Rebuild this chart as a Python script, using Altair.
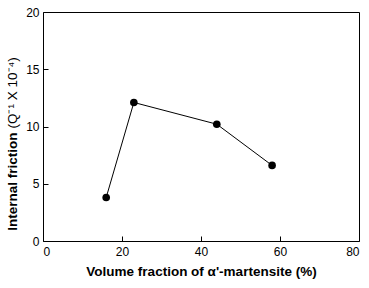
import altair as alt
import pandas as pd

volume_fraction = [16, 23, 44, 58]
internal_friction = [3.8, 12.1, 10.2, 6.6]
x_ticks = [0, 20, 40, 60, 80]
y_ticks = [0, 5, 10, 15, 20]

df = pd.DataFrame({"vf": volume_fraction, "q": internal_friction})

FONT = "Liberation Sans"
W, H = 316, 229
INWARD = alt.ExprRef(expr="-5")

xscale = alt.Scale(domain=[0, 80], nice=False)
yscale = alt.Scale(domain=[0, 20], nice=False)

xaxis = alt.Axis(values=x_ticks, title="Volume fraction of α'-martensite (%)",
                 ticks=True, tickSize=INWARD, tickColor="black", domain=False, grid=False,
                 labelPadding=10, labelFontSize=12, labelFont=FONT, labelColor="black",
                 titleFont=FONT, titleFontSize=13.5, titleFontWeight="bold", titleColor="black",
                 titlePadding=7)


def X():
    return alt.X("vf:Q", scale=xscale, axis=xaxis)


line = alt.Chart(df).mark_line(color="black", strokeWidth=1).encode(
    x=X(),
    y=alt.Y("q:Q", scale=yscale,
            axis=alt.Axis(values=y_ticks, title="Internal friction",
                          ticks=True, tickSize=INWARD, tickColor="black", domain=False, grid=False,
                          labelPadding=9, labelFontSize=12, labelFont=FONT, labelColor="black",
                          titleFont=FONT, titleFontSize=13.5, titleFontWeight="bold", titleColor="black",
                          titleAlign="right", titleY=120, titleX=-24, titleBaseline="bottom", titleAngle=270)),
)
pts = alt.Chart(df).mark_circle(color="black", opacity=1, size=58).encode(
    x=X(),
    y=alt.Y("q:Q", scale=yscale, axis=None),
)

title2 = alt.Chart(df).mark_point(opacity=0).encode(
    x=X(),
    y=alt.Y("q:Q", scale=yscale,
            axis=alt.Axis(orient="left", title="(Q⁻¹ X 10⁻⁴)", labels=False, ticks=False, domain=False,
                          grid=False, titleFont=FONT, titleFontSize=13.5, titleFontWeight="normal",
                          titleColor="black", titleAlign="left", titleY=116, titleX=-24,
                          titleBaseline="bottom", titleAngle=270)),
)

chart = alt.layer(line, pts, title2).resolve_axis(y="independent").properties(
    width=W, height=H,
    autosize=alt.AutoSizeParams(type="none"),
    padding={"left": 43, "top": 12, "right": 10, "bottom": 47},
).configure(background="white", view=alt.ViewConfig(stroke="black", strokeWidth=1))

chart.save("out.html", embed_options={"renderer": "svg", "actions": False})
